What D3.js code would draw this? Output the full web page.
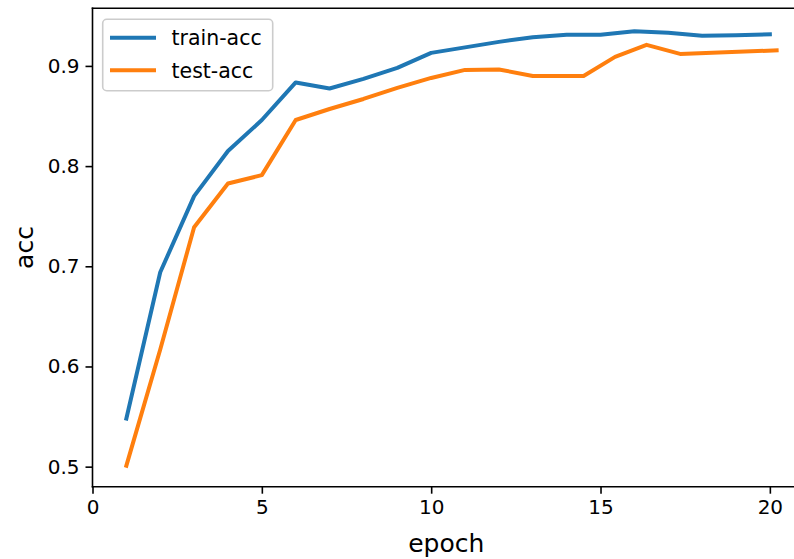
<!DOCTYPE html>
<html>
<head>
<meta charset="utf-8">
<script src="https://cdn.jsdelivr.net/npm/d3@7"></script>
<style>
  html, body { margin: 0; padding: 0; background: #fff; }
  svg { display: block; font-family: "DejaVu Sans", sans-serif; }
</style>
</head>
<body>
<svg id="chart" width="794" height="559"></svg>
<script>
// ---- data ----
const trainEpochs = [1,2,3,4,5,6,7,8,9,10,11,12,13,14,15,16,17,18,19,20];
const trainAcc = [0.548, 0.694, 0.770, 0.815, 0.846, 0.8835, 0.8775, 0.887, 0.898, 0.913,
                  0.9185, 0.924, 0.9287, 0.931, 0.931, 0.9345, 0.933, 0.930, 0.9305, 0.9315];
const testEpochs = [1,2,3,4,5,6,7,8,9,10,11,12,13,14.5,15.43,16.36,17.35,20.2];
const testAcc = [0.501, 0.617, 0.739, 0.7826, 0.791, 0.846, 0.857, 0.867, 0.878, 0.888,
                 0.896, 0.8965, 0.890, 0.890, 0.909, 0.921, 0.912, 0.9155];
const xTicks = [0, 5, 10, 15, 20];
const yTicks = [0.5, 0.6, 0.7, 0.8, 0.9];
const seriesNames = ["train-acc", "test-acc"];
const colors = ["#1f77b4", "#ff7f0e"];

(function () {
// ---- layout ----
const svg = d3.select("#chart");
const pLeft = 92.5, pRight = 800, pTop = 8.3, pBottom = 486.7;
const x = d3.scaleLinear().domain([0, 20.89]).range([pLeft, pRight]);
const y = d3.scaleLinear().domain([0.48, 0.9575]).range([pBottom, pTop]);

svg.append("defs").append("clipPath").attr("id", "clip")
  .append("rect").attr("x", pLeft).attr("y", pTop).attr("width", pRight - pLeft).attr("height", pBottom - pTop);

// lines
const line = d3.line().x(d => x(d[0])).y(d => y(d[1]));
const series = [
  trainEpochs.map((e, i) => [e, trainAcc[i]]),
  testEpochs.map((e, i) => [e, testAcc[i]])
];
series.forEach((s, i) => {
  svg.append("path")
    .attr("d", line(s))
    .attr("fill", "none")
    .attr("stroke", colors[i])
    .attr("stroke-width", 4)
    .attr("stroke-linejoin", "round")
    .attr("stroke-linecap", "square")
    .attr("clip-path", "url(#clip)");
});

// axes
const xAxis = d3.axisBottom(x).tickValues(xTicks).tickFormat(d3.format("d")).tickSize(7).tickPadding(6);
const yAxis = d3.axisLeft(y).tickValues(yTicks).tickFormat(d3.format(".1f")).tickSize(7).tickPadding(6);

const gx = svg.append("g").attr("transform", `translate(0,${pBottom})`).call(xAxis);
const gy = svg.append("g").attr("transform", `translate(${pLeft},0)`).call(yAxis);
[gx, gy].forEach(g => {
  g.select(".domain").remove();
  g.selectAll(".tick line").attr("stroke", "#000").attr("stroke-width", 1.6);
  g.selectAll(".tick text").attr("fill", "#000").style("font-size", "20px")
    .style("font-family", "'DejaVu Sans', sans-serif");
});
gx.selectAll(".tick text").attr("dy", "0.71em");

// spines
svg.append("line").attr("x1", pLeft).attr("x2", pLeft).attr("y1", pTop).attr("y2", pBottom)
  .attr("stroke", "#000").attr("stroke-width", 1.6).attr("stroke-linecap", "square");
svg.append("line").attr("x1", pLeft).attr("x2", pRight).attr("y1", pBottom).attr("y2", pBottom)
  .attr("stroke", "#000").attr("stroke-width", 1.6).attr("stroke-linecap", "square");
svg.append("line").attr("x1", pLeft).attr("x2", pRight).attr("y1", pTop).attr("y2", pTop)
  .attr("stroke", "#000").attr("stroke-width", 1.6).attr("stroke-linecap", "square");

// axis labels
svg.append("text").attr("x", (pLeft + pRight) / 2).attr("y", 552)
  .attr("text-anchor", "middle").style("font-size", "25px").text("epoch");
svg.append("text").attr("transform", `translate(33,${(pTop + pBottom) / 2}) rotate(-90)`)
  .attr("text-anchor", "middle").style("font-size", "25px").text("acc");

// legend
const lg = svg.append("g");
lg.append("rect").attr("x", 102.7).attr("y", 19.3).attr("width", 170).attr("height", 71.4)
  .attr("rx", 4).attr("fill", "#fff").attr("fill-opacity", 0.8)
  .attr("stroke", "#cccccc").attr("stroke-width", 1.6);
seriesNames.forEach((name, i) => {
  const cy = 37.7 + i * 32.5;
  lg.append("line").attr("x1", 112).attr("x2", 154).attr("y1", cy).attr("y2", cy)
    .attr("stroke", colors[i]).attr("stroke-width", 4).attr("stroke-linecap", "square");
  lg.append("text").attr("x", 171.5).attr("y", cy + 7.5).style("font-size", "20.5px")
    .attr("fill", "#000").text(name);
});
})();
</script>
</body>
</html>
